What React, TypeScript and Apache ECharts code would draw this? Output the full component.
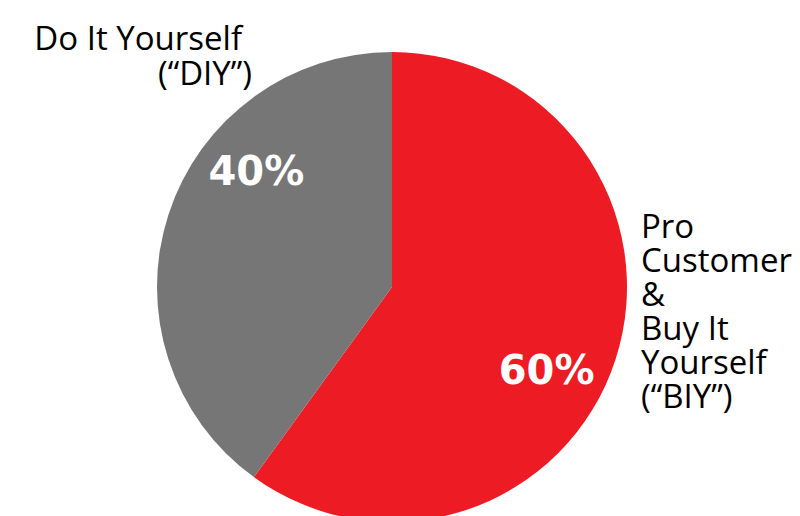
import React, { useEffect, useRef } from "react";
import * as echarts from "echarts";

const categories = ["Pro Customer & Buy It Yourself (“BIY”)", "Do It Yourself (“DIY”)"];
const values = [60, 40];
const colors = ["#ED1C24", "#767676"];
const biyLines = ["Pro", "Customer", "&", "Buy It", "Yourself", "(“BIY”)"];
const diyLines = ["Do It Yourself", "(“DIY”)"];

export default function App() {
  const ref = useRef<HTMLDivElement>(null);
  useEffect(() => {
    if (!ref.current) return;
    const chart = echarts.init(ref.current, undefined, { renderer: "svg" });
    const nameFont = "'Open Sans', sans-serif";
    const graphics: any[] = [];
    const diyRight = [242, 252];
    diyLines.forEach((t, i) => {
      graphics.push({
        type: "text",
        x: diyRight[i],
        y: 49 + i * 35 - 12,
        style: {
          text: t,
          fill: "#000",
          font: `33px ${nameFont}`,
          lineHeight: 32,
          textAlign: "right",
          textVerticalAlign: "middle",
        },
      });
    });
    const lh = 34.2;
    graphics.push({
      type: "text",
      x: 641,
      y: 225 - lh / 2,
      style: {
        text: biyLines.join("\n"),
        fill: "#000",
        font: `33px ${nameFont}`,
        lineHeight: lh,
        textAlign: "left",
        textVerticalAlign: "top",
      },
    });
    const offsets = [
      [40, 46],
      [-21, -79],
    ];
    chart.setOption({
      animation: false,
      graphic: graphics,
      series: [
        {
          type: "pie",
          center: [392, 287],
          radius: [0, 235],
          startAngle: 90,
          clockwise: true,
          silent: true,
          itemStyle: { borderWidth: 0 },
          label: {
            show: true,
            position: "inside",
            formatter: "{d}%",
            color: "#fff",
            fontFamily: "'DejaVu Sans', sans-serif",
            fontWeight: "bold",
            fontSize: 40,
          },
          labelLine: { show: false },
          data: categories.map((name, i) => ({
            name,
            value: values[i],
            itemStyle: { color: colors[i] },
            label: { offset: offsets[i] },
          })),
        },
      ],
    });
    return () => chart.dispose();
  }, []);
  return (
    <div
      ref={ref}
      style={{ position: "fixed", left: 0, top: 0, width: 800, height: 516, background: "#fff" }}
    />
  );
}
